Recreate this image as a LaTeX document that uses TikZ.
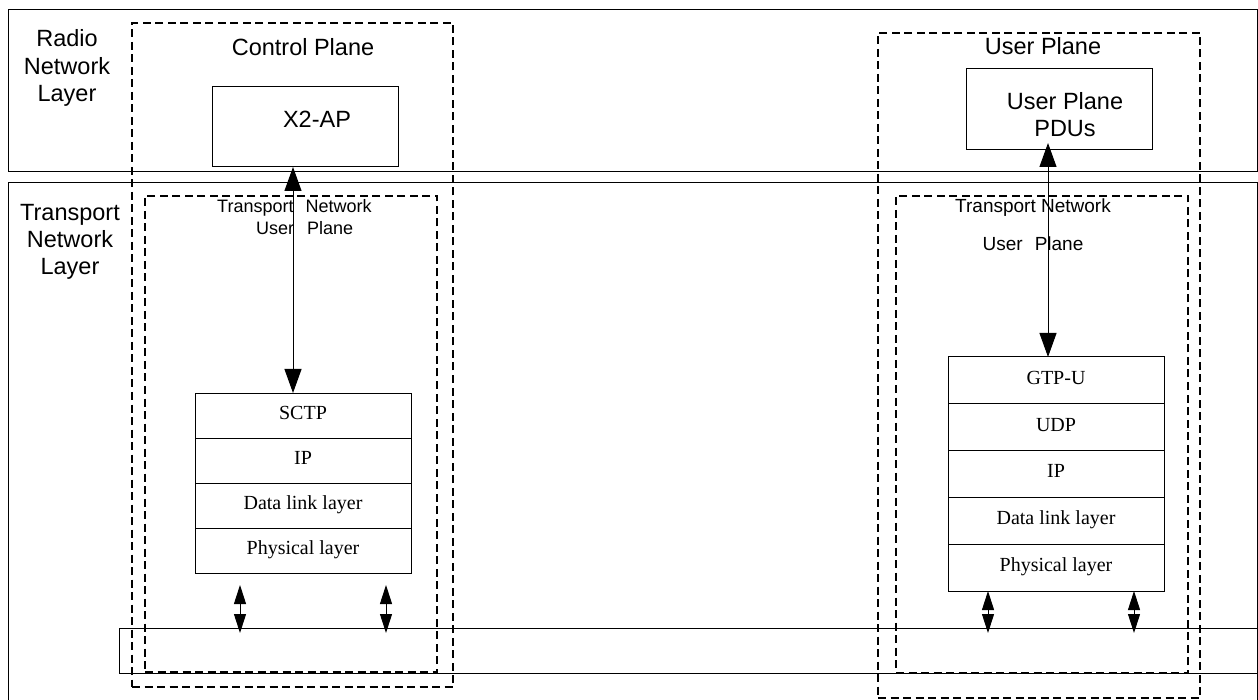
\documentclass[tikz,border=0pt]{standalone}
\usepackage{fontspec}
\setmainfont{Liberation Serif}
\newfontfamily\arialf{Liberation Sans}
\usetikzlibrary{arrows.meta}
\tikzset{
  frame/.style={draw, line width=1pt, inner sep=0pt, outer sep=0pt},
  dashbox/.style={draw, line width=2.5pt, dash pattern=on 8pt off 4.5pt, inner sep=0pt, outer sep=0pt},
  biglbl/.style={font=\arialf\fontsize{23.5}{27.3}\selectfont, align=center, anchor=base, inner sep=0pt},
  layerbox/.style={draw, line width=1pt, minimum width=216pt, inner sep=0pt, outer sep=0pt, font=\fontsize{20}{24}\selectfont, text height=13.2pt, text depth=5.4pt},
  bigarr/.style={line width=1pt, {Triangle[length=24pt,width=17pt]}-{Triangle[length=24pt,width=17pt]}},
  smarr/.style={line width=1pt, {Triangle[length=19pt,width=12pt]}-{Triangle[length=19pt,width=12pt]}},
}
\begin{document}
\begin{tikzpicture}[x=1pt,y=-1pt]
\clip (0,0) rectangle (1258,700);
\fill[white] (0,0) rectangle (1258,700);
% layer frames
\node[frame, minimum width=1249pt, minimum height=162pt] (rnl) at (632.5,91) {};
\node[frame, minimum width=1249pt, minimum height=530pt] (tnl) at (632.5,448) {};
\node[frame, minimum width=1138pt, minimum height=45pt] (bus) at (688,650.5) {};
% layer labels
\node[biglbl] (rnlt) at (67,101.5) {Radio\\Network\\Layer};
\node[biglbl] (tnlt) at (70,275) {Transport\\Network\\Layer};
% control plane
\node[dashbox, minimum width=321pt, minimum height=664pt] (cpo) at (292.5,355) {};
\node[dashbox, minimum width=292pt, minimum height=476pt] (cpi) at (291,434) {};
\node[biglbl] (cpt) at (303,56) {Control Plane};
\node[frame, minimum width=186pt, minimum height=80pt, font=\arialf\fontsize{23.5}{27.3}\selectfont, text height=17pt, text depth=15pt] (x2ap) at (305,127) {\hspace*{24pt}X2-AP};
\node[font=\arialf\fontsize{18}{22}\selectfont, align=left, anchor=base west, inner sep=0pt] (tnupl) at (217,235) {Transport\hspace{12pt}Network\\\hspace*{39pt}User\hspace{13pt}Plane};
\node[layerbox, minimum height=45pt] (sctp) at (303,415.5) {SCTP};
\node[layerbox, minimum height=45pt] (ip1) at (303,460.5) {IP};
\node[layerbox, minimum height=45pt] (dll1) at (303,505.5) {Data link layer};
\node[layerbox, minimum height=45pt] (phy1) at (303,550.5) {Physical layer};
% user plane
\node[dashbox, minimum width=322pt, minimum height=665pt] (upo) at (1039,365.5) {};
\node[dashbox, minimum width=292pt, minimum height=477pt] (upi) at (1042,434.5) {};
\node[biglbl] (upt) at (1043,55) {User Plane};
\node[frame, minimum width=186pt, minimum height=81pt] (pdu) at (1059,109.5) {};
\node[biglbl] (pdut) at (1065,137) {User Plane\\PDUs};
\node[font=\arialf\fontsize{19}{38}\selectfont, align=center, anchor=base, inner sep=0pt] (tnupr) at (1033,251) {Transport Network\\User\hspace{12pt}Plane};
\node[layerbox, minimum height=46.8pt] (gtpu) at (1056,380.4) {GTP-U};
\node[layerbox, minimum height=46.8pt] (udp) at (1056,427.2) {UDP};
\node[layerbox, minimum height=46.8pt] (ip2) at (1056,474) {IP};
\node[layerbox, minimum height=46.8pt] (dll2) at (1056,520.8) {Data link layer};
\node[layerbox, minimum height=46.8pt] (phy2) at (1056,567.6) {Physical layer};
% arrows
\draw[bigarr] ([xshift=-10pt]sctp.north |- x2ap.south) -- ([xshift=-10pt]sctp.north);
\draw[bigarr] ([xshift=-8pt,yshift=7pt]gtpu.north |- pdu.south) -- ([xshift=-8pt]gtpu.north);
\draw[smarr] ([xshift=-63pt,yshift=-12pt]phy1.south) -- ([xshift=-63pt,yshift=-5pt]phy1.south |- bus.north);
\draw[smarr] ([xshift=83pt,yshift=-12pt]phy1.south) -- ([xshift=83pt,yshift=-5pt]phy1.south |- bus.north);
\draw[smarr] ([xshift=-68pt]phy2.south) -- ([xshift=-68pt,yshift=-5pt]phy2.south |- bus.north);
\draw[smarr] ([xshift=78pt]phy2.south) -- ([xshift=78pt,yshift=-5pt]phy2.south |- bus.north);
\end{tikzpicture}
\end{document}
